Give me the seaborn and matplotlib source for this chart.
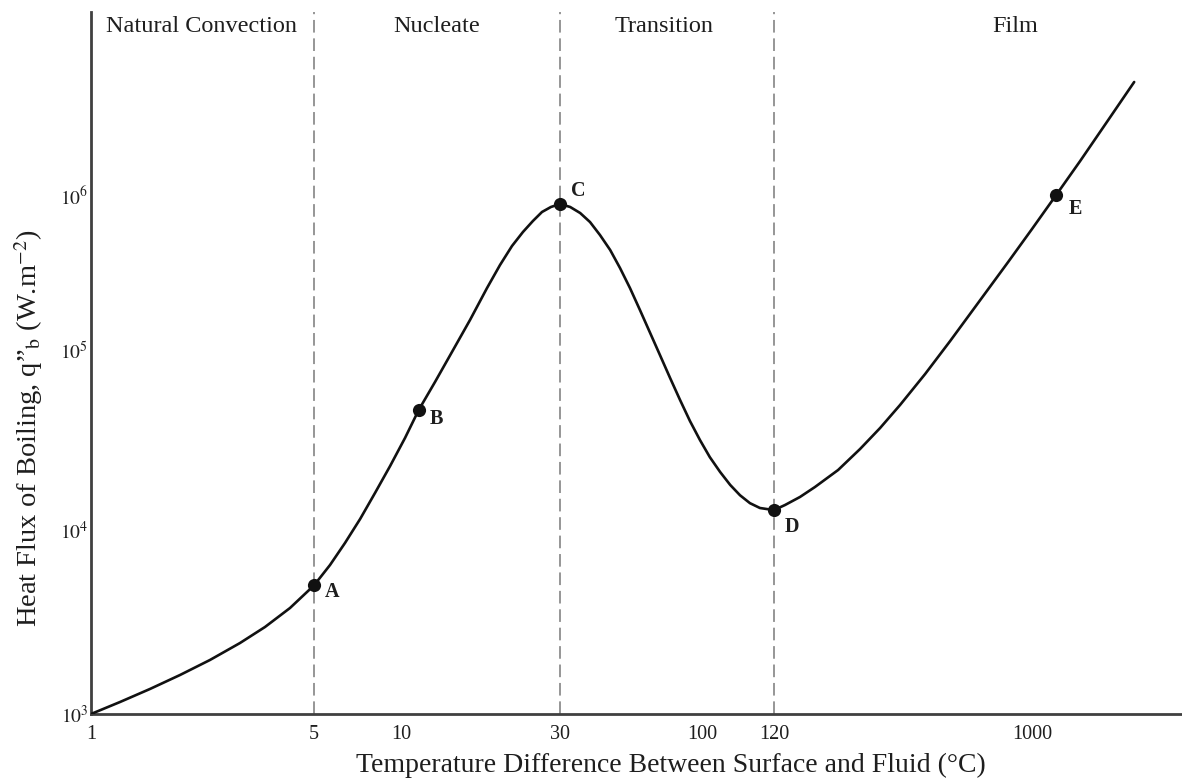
import numpy as np
import matplotlib
matplotlib.use("Agg")
import matplotlib.pyplot as plt
import seaborn as sns

# Boiling curve: wall superheat (deg C) vs heat flux (W/m^2)
delta_t = [1.0, 1.233, 1.531, 1.901, 2.36, 2.931, 3.511, 4.205, 5.0,
           5.68, 6.40, 7.22, 8.13, 9.17, 10.28, 11.3,
           12.65, 14.22, 16.11, 18.12, 19.82, 21.53, 23.22, 24.88, 26.49, 28.18, 30.0,
           32.7, 35.6, 38.7, 42.1, 45.9, 49.9, 54.3, 59.1, 64.4, 70.0, 76.3, 83.0,
           90.3, 98.3, 102.0, 104.7, 107.4, 110.1, 112.9, 115.8, 120.0,
           131.4, 148.6, 168.1, 203.2, 243.4, 287.0, 338.1, 415.5, 510.4, 626.6,
           822.0, 1000.0, 1220.0, 1486.0, 1872.0, 2317.0]
heat_flux = [1000, 1162, 1368, 1629, 1966, 2431, 2971, 3768, 5000,
             6452, 8500, 11510, 16060, 22680, 32440, 46400,
             66440, 97470, 156200, 251200, 353500, 468800, 577000, 679800, 777000, 837000, 875000,
             837000, 765000, 669000, 552000, 442000, 338000, 251000, 181000, 129000, 93800, 69900, 52800,
             40300, 31600, 25400, 21000, 17800, 15600, 14100, 13250, 12900,
             13770, 15260, 17340, 21540, 28180, 36870, 49490, 73560, 114300, 189400,
             369600, 603400, 1000000, 1657000, 3047000, 5358000]

point_labels = ["A", "B", "C", "D", "E"]
point_dt = [5.0, 11.3, 30.0, 120.0, 1220.0]
point_q = [5000, 46400, 875000, 12900, 1000000]

regime_names = ["Natural Convection", "Nucleate", "Transition", "Film"]
regime_bounds = [5, 30, 120]

x_ticks = [1, 5, 10, 30, 100, 120, 1000]
x_tick_labels = ["1", "5", "10", "30", "100", "120", "1000"]
y_ticks = [1e3, 1e4, 1e5, 1e6]
y_tick_labels = [r"$10^{3}$", r"$10^{4}$", r"$10^{5}$", r"$10^{6}$"]

# Schematic (non-uniform) log spacing of the axes: log10 value -> axis units
X_LOG = [-1.0, 0.0, np.log10(5), 1.0, np.log10(30), 2.0, np.log10(120), 3.0, 4.0]
X_POS = [-319, 0, 223, 310, 469, 611, 683, 941, 1221]
Y_LOG = [2.0, 3.0, 4.0, 5.0, 6.0, 7.0, 8.0]
Y_POS = [-184, 0, 184, 364, 519, 674, 829]


def _fwd(log_pts, pos_pts):
    def f(v):
        v = np.clip(np.asarray(v, dtype=float), 1e-12, None)
        return np.interp(np.log10(v), log_pts, pos_pts)
    return f


def _inv(log_pts, pos_pts):
    def f(p):
        return 10.0 ** np.interp(np.asarray(p, dtype=float), pos_pts, log_pts)
    return f


x_fwd, x_inv = _fwd(X_LOG, X_POS), _inv(X_LOG, X_POS)
y_fwd, y_inv = _fwd(Y_LOG, Y_POS), _inv(Y_LOG, Y_POS)

sns.set_theme(style="white")
plt.rcParams["font.family"] = ["Liberation Serif", "DejaVu Serif"]
plt.rcParams["mathtext.fontset"] = "stix"

W, H = 1182, 780
fig = plt.figure(figsize=(W / 100, H / 100), dpi=100)
ax = fig.add_axes([91 / W, 66 / H, 1091 / W, 702 / H])

text_color = "#1e1e1e"

for b in regime_bounds:
    ax.axvline(b, color="#8e8e8e", lw=1.3, dashes=(7, 3.2), zorder=1)

sns.lineplot(x=delta_t, y=heat_flux, ax=ax, color="#111111", lw=1.9,
             estimator=None, sort=False, zorder=3)
sns.scatterplot(x=point_dt, y=point_q, ax=ax, color="#111111", s=90,
                linewidth=0, zorder=4)

offsets = {"A": (13, -5), "B": (13, -6.5), "C": (13.5, 9.5), "D": (13, -12), "E": (13.5, -10)}
for lab, xv, yv in zip(point_labels, point_dt, point_q):
    ax.annotate(lab, (xv, yv), xytext=offsets[lab], textcoords="offset points",
                ha="center", va="center", fontsize=14.5, fontweight="bold",
                color=text_color)

ax.set_xscale("function", functions=(x_fwd, x_inv))
ax.set_yscale("function", functions=(y_fwd, y_inv))
ax.set_xlim(1, float(x_inv(1091)))
ax.set_ylim(1e3, float(y_inv(702)))

ax.set_xticks(x_ticks)
ax.set_xticklabels(x_tick_labels, fontsize=14.5, color=text_color)
ax.set_yticks(y_ticks)
ax.set_yticklabels(y_tick_labels, fontsize=14, color=text_color)
ax.minorticks_off()
ax.tick_params(axis="x", length=0, pad=8)
ax.tick_params(axis="y", length=0, pad=2)

for side in ["top", "right"]:
    ax.spines[side].set_visible(False)
for side in ["left", "bottom"]:
    ax.spines[side].set_linewidth(2.0)
    ax.spines[side].set_color("#404040")

region_x = [0.1017, 0.317, 0.525, 0.847]
for name, fx in zip(regime_names, region_x):
    ax.text(fx, 0.98, name, transform=ax.transAxes, ha="center", va="center",
            fontsize=17.5, color=text_color)

ax.set_xlabel("")
ax.set_ylabel("")
fig.text(671 / W, 1 - 765 / H, "Temperature Difference Between Surface and Fluid (°C)",
         ha="center", va="center", fontsize=20, color=text_color)
fig.text(29 / W, 1 - 428 / H, "Heat Flux of Boiling, q\u201d$_\\mathrm{b}$ (W.m$^{-2}$)",
         ha="center", va="center", rotation=90, fontsize=20.5, color=text_color)

fig.savefig("out.png", dpi=100)
